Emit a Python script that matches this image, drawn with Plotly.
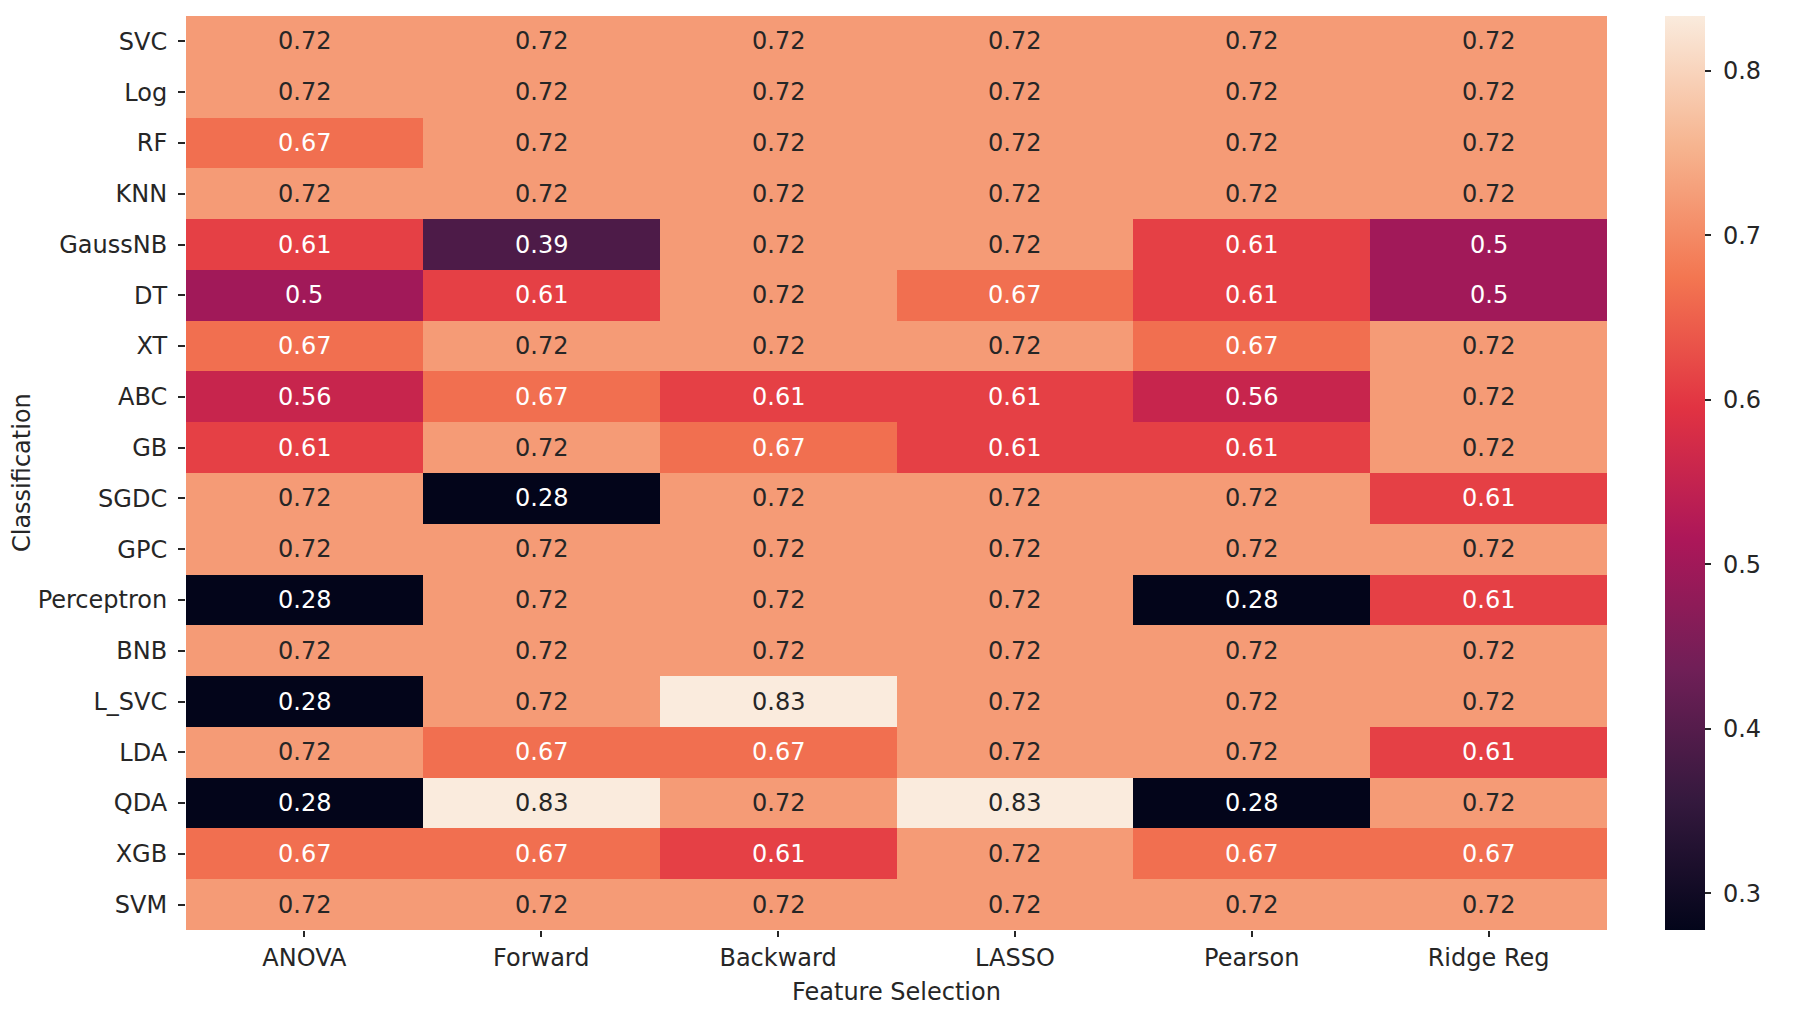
import plotly.graph_objects as go

methods = ["ANOVA", "Forward", "Backward", "LASSO", "Pearson", "Ridge Reg"]
classifiers = ["SVC", "Log", "RF", "KNN", "GaussNB", "DT", "XT", "ABC", "GB", "SGDC",
               "GPC", "Perceptron", "BNB", "L_SVC", "LDA", "QDA", "XGB", "SVM"]

svc = [0.7222, 0.7222, 0.7222, 0.7222, 0.7222, 0.7222]
log = [0.7222, 0.7222, 0.7222, 0.7222, 0.7222, 0.7222]
rf = [0.6667, 0.7222, 0.7222, 0.7222, 0.7222, 0.7222]
knn = [0.7222, 0.7222, 0.7222, 0.7222, 0.7222, 0.7222]
gaussnb = [0.6111, 0.3889, 0.7222, 0.7222, 0.6111, 0.5000]
dt = [0.5000, 0.6111, 0.7222, 0.6667, 0.6111, 0.5000]
xt = [0.6667, 0.7222, 0.7222, 0.7222, 0.6667, 0.7222]
abc = [0.5556, 0.6667, 0.6111, 0.6111, 0.5556, 0.7222]
gb = [0.6111, 0.7222, 0.6667, 0.6111, 0.6111, 0.7222]
sgdc = [0.7222, 0.2778, 0.7222, 0.7222, 0.7222, 0.6111]
gpc = [0.7222, 0.7222, 0.7222, 0.7222, 0.7222, 0.7222]
perceptron = [0.2778, 0.7222, 0.7222, 0.7222, 0.2778, 0.6111]
bnb = [0.7222, 0.7222, 0.7222, 0.7222, 0.7222, 0.7222]
l_svc = [0.2778, 0.7222, 0.8333, 0.7222, 0.7222, 0.7222]
lda = [0.7222, 0.6667, 0.6667, 0.7222, 0.7222, 0.6111]
qda = [0.2778, 0.8333, 0.7222, 0.8333, 0.2778, 0.7222]
xgb = [0.6667, 0.6667, 0.6111, 0.7222, 0.6667, 0.6667]
svm = [0.7222, 0.7222, 0.7222, 0.7222, 0.7222, 0.7222]

z = [svc, log, rf, knn, gaussnb, dt, xt, abc, gb, sgdc, gpc, perceptron,
     bnb, l_svc, lda, qda, xgb, svm]

colorbar_ticks = [0.3, 0.4, 0.5, 0.6, 0.7, 0.8]

rocket = [
    [0.0, "#03051a"], [1/7, "#35193e"], [2/7, "#701f57"], [3/7, "#ad1759"],
    [4/7, "#e13342"], [5/7, "#f37651"], [6/7, "#f6b48f"], [1.0, "#faebdd"],
]

FONT = "DejaVu Sans"
FS = 24
TXT = "#262626"


def fmt(v):
    s = f"{v:.2f}"
    return s[:-1] if s.endswith("0") else s


fig = go.Figure()
fig.add_trace(go.Heatmap(
    z=z, x=methods, y=classifiers,
    colorscale=rocket, zmin=0.2778, zmax=0.8333,
    xgap=0, ygap=0,
    colorbar=dict(
        x=1.0408, xanchor="left", xref="paper", xpad=0, ypad=0,
        y=0.5, yanchor="middle", len=1.0, lenmode="fraction",
        thickness=40, thicknessmode="pixels",
        outlinewidth=0,
        tickvals=colorbar_ticks,
        ticktext=["\u00a0" + f"{v:.1f}" for v in colorbar_ticks],
        ticks="outside", ticklen=6, tickwidth=1.5, tickcolor=TXT,
        tickfont=dict(family=FONT, size=FS, color=TXT),
    ),
))

annotations = []
for i, row in enumerate(z):
    for j, v in enumerate(row):
        annotations.append(dict(
            x=methods[j], y=classifiers[i], xref="x", yref="y",
            text=fmt(v), showarrow=False,
            font=dict(family=FONT, size=FS, color="white" if v < 0.7 else TXT),
        ))

annotations.append(dict(
    x=0.5, y=-0.0678, xref="paper", yref="paper", xanchor="center", yanchor="middle",
    text="Feature Selection", showarrow=False,
    font=dict(family=FONT, size=FS, color=TXT),
))
annotations.append(dict(
    x=-0.1154, y=0.5, xref="paper", yref="paper", xanchor="center", yanchor="middle",
    text="Classification", textangle=-90, showarrow=False,
    font=dict(family=FONT, size=FS, color=TXT),
))

fig.update_layout(
    width=1800, height=1010,
    margin=dict(l=178, r=201, t=8, b=88, autoexpand=False),
    paper_bgcolor="white", plot_bgcolor="white",
    font=dict(family=FONT, size=FS, color=TXT),
    annotations=annotations,
    xaxis=dict(
        showgrid=False, zeroline=False, ticks="outside", ticklen=6, tickwidth=1.5,
        tickcolor=TXT, tickfont=dict(family=FONT, size=FS, color=TXT),
        ticklabelstandoff=0, automargin=False,
    ),
    yaxis=dict(
        autorange="reversed",
        showgrid=False, zeroline=False, ticks="outside", ticklen=7, tickwidth=1.5,
        tickcolor=TXT, tickfont=dict(family=FONT, size=FS, color=TXT),
        ticklabelstandoff=6, automargin=False,
    ),
)

fig.write_html("out.html")
